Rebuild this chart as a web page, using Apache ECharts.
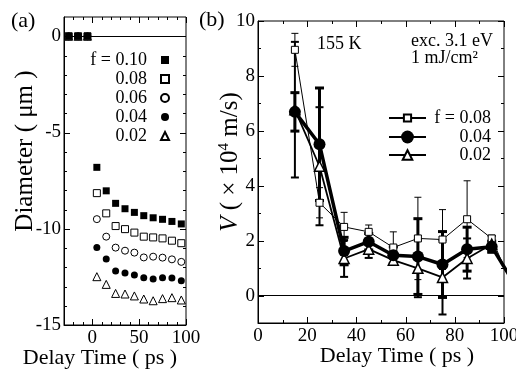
<!DOCTYPE html>
<html><head><meta charset="utf-8">
<script src="https://cdn.jsdelivr.net/npm/echarts@6/dist/echarts.min.js"></script>
<style>html,body{margin:0;padding:0;background:#fff}#c{width:516px;height:369px}</style>
</head><body><div id="c"></div><script>
const FONT = 'Liberation Serif';

// ---------- Panel (a): Diameter vs delay time ----------
const aTime = [-25, -15, -5, 5, 15, 25, 35, 45, 55, 65, 75, 85, 95];
const aF10 = [0, 0, 0, -6.81, -8.03, -8.68, -8.96, -9.15, -9.32, -9.43, -9.51, -9.62, -9.75];
const aF08 = [0, 0, 0, -8.15, -9.20, -9.86, -10.02, -10.20, -10.41, -10.45, -10.50, -10.62, -10.75];
const aF06 = [0, 0, 0, -9.50, -10.41, -10.98, -11.14, -11.24, -11.49, -11.45, -11.50, -11.59, -11.72];
const aF04 = [0, 0, 0, -10.98, -11.57, -12.20, -12.30, -12.40, -12.54, -12.61, -12.54, -12.56, -12.70];
const aF02 = [0, 0, 0, -12.49, -12.89, -13.36, -13.39, -13.49, -13.65, -13.74, -13.63, -13.58, -13.70];
const aXRange = [-30, 100];
const aYRange = [-15, 1];
const aXMajor = [0, 50, 100];
const aXMinor = [-20, -10, 10, 20, 30, 40, 60, 70, 80, 90];
const aYMajor = [-15, -10, -5, 0];
const aYMinor = [-14, -13, -12, -11, -9, -8, -7, -6, -4, -3, -2, -1];

// ---------- Panel (b): velocity vs delay time ----------
const bTime = [15, 25, 35, 45, 55, 65, 75, 85, 95, 105];
const bV08 = [8.95, 3.38, 2.50, 2.32, 1.75, 2.08, 2.04, 2.78, 2.08, 0.02];
const bE08 = [0.60, 0.55, 0.53, 0.25, 0.57, 1.50, 1.09, 1.40, 0.12];
const bV04 = [6.69, 5.51, 1.62, 1.96, 1.47, 1.42, 1.13, 1.69, 1.78, 0.32];
const bE04 = [0.70, 2.05, 0.50, 0.30, 0.30, 1.38, 1.20, 0.80, 0.20];
const bV02 = [6.77, 4.71, 1.35, 1.69, 1.29, 0.99, 0.66, 1.35, 1.87, 0.23];
const bE02 = [2.47, 2.15, 0.67, 0.32, 0.15, 1.05, 1.35, 0.73, 0.30];
const bXRange = [0, 100];
const bYRange = [-1, 10];
const bXMajor = [0, 20, 40, 60, 80, 100];
const bXMinor = [10, 30, 50, 70, 90];
const bYMajor = [0, 2, 4, 6, 8, 10];
const bYMinor = [1, 3, 5, 7, 9];

const labelMap = {
  a10: 'f = 0.10', a08: '0.08', a06: '0.06', a04: '0.04', a02: '0.02',
  b08: 'f = 0.08', b04: '0.04', b02: '0.02'
};

const labelStyle = { color: '#000', fontFamily: FONT, fontSize: 19 };

function axis(gridIndex, range, major, pos, labelMargin, nameOpt) {
  return Object.assign({
    type: 'value', gridIndex, min: range[0], max: range[1], position: pos,
    splitLine: { show: false },
    axisLine: { show: true, onZero: false, lineStyle: { color: '#000', width: 1 } },
    axisTick: { show: false },
    axisLabel: Object.assign({ show: true, customValues: major, margin: labelMargin }, labelStyle)
  }, nameOpt);
}

const xAxes = [
  axis(0, aXRange, aXMajor, 'bottom', 4, {
    name: 'Delay Time ( ps )', nameLocation: 'middle', nameGap: 22, nameMoveOverlap: false,
    nameTextStyle: { color: '#000', fontFamily: FONT, fontSize: 22, padding: [0, 50, 0, 0] }
  }),
  axis(1, bXRange, bXMajor, 'bottom', 4, {
    name: 'Delay Time ( ps )', nameLocation: 'middle', nameGap: 22, nameMoveOverlap: false,
    nameTextStyle: { color: '#000', fontFamily: FONT, fontSize: 22, padding: [0, 0, 0, 32] }
  })
];
const yAxes = [
  axis(0, aYRange, aYMajor, 'left', 3, {
    name: 'Diameter ( μm )', nameLocation: 'middle', nameGap: 26, nameMoveOverlap: false,
    nameTextStyle: { color: '#000', fontFamily: FONT, fontSize: 25, padding: [0, 0, 0, 40] }
  }),
  axis(1, bYRange, bYMajor, 'left', 3, {
    name: '{i|V} ( × 10{s|4} m/s)', nameLocation: 'middle', nameGap: 15, nameMoveOverlap: false,
    nameTextStyle: { color: '#000', fontFamily: FONT, fontSize: 25, padding: [0, 0, 0, 20],
      rich: { i: { fontStyle: 'italic', fontFamily: FONT, fontSize: 25, color: '#000' },
              s: { fontFamily: FONT, fontSize: 15, color: '#000', verticalAlign: 'top', padding: [0, 0, 11, 0] } } }
  })
];

function aSeries(name, vals, symbol, filled, size) {
  return {
    type: 'scatter', name, xAxisIndex: 0, yAxisIndex: 0, symbol, symbolSize: size,
    data: aTime.map((t, i) => [t, vals[i]]),
    itemStyle: { color: filled ? '#000' : '#fff', borderColor: '#000', borderWidth: filled ? 0 : 1, opacity: 1 },
    emphasis: { disabled: true }
  };
}

function errSeries(name, vals, errs, lw, cap) {
  return {
    type: 'custom', name, xAxisIndex: 1, yAxisIndex: 1, z: 1, silent: true,
    data: errs.map((e, i) => [bTime[i], vals[i] - e, vals[i] + e]),
    renderItem(params, api) {
      const x = api.value(0);
      const top = api.coord([x, api.value(2)]);
      const bot = api.coord([x, api.value(1)]);
      const st = { stroke: '#000', lineWidth: lw };
      return { type: 'group', children: [
        { type: 'line', shape: { x1: top[0], y1: top[1], x2: bot[0], y2: bot[1] }, style: st },
        { type: 'line', shape: { x1: top[0] - cap, y1: top[1], x2: top[0] + cap, y2: top[1] }, style: st },
        { type: 'line', shape: { x1: bot[0] - cap, y1: bot[1], x2: bot[0] + cap, y2: bot[1] }, style: st }
      ] };
    }
  };
}

// inside ticks on all four sides, drawn through the axes' own scales
function tickSeries(gi, xr, yr, xMaj, xMin, yMaj, yMin) {
  const data = [];
  xMaj.forEach(v => data.push([v, yr[0], yr[1], 0, 6]));
  xMin.forEach(v => data.push([v, yr[0], yr[1], 0, 3]));
  yMaj.forEach(v => data.push([v, xr[0], xr[1], 1, 6]));
  yMin.forEach(v => data.push([v, xr[0], xr[1], 1, 3]));
  return {
    type: 'custom', xAxisIndex: gi, yAxisIndex: gi, z: 10, silent: true,
    dimensions: ['v', 'lo', 'hi', 'dir', 'len'],
    encode: { x: 0, y: 1 },
    data,
    renderItem(params, api) {
      const v = api.value(0), lo = api.value(1), hi = api.value(2), dir = api.value(3), len = api.value(4);
      const st = { stroke: '#000', lineWidth: 1 };
      if (dir === 0) {
        const b = api.coord([v, lo]), t = api.coord([v, hi]);
        const x = Math.round(b[0]) + 0.5;
        return { type: 'group', children: [
          { type: 'line', shape: { x1: x, y1: b[1], x2: x, y2: b[1] - len }, style: st },
          { type: 'line', shape: { x1: x, y1: t[1], x2: x, y2: t[1] + len }, style: st }
        ] };
      }
      const l = api.coord([lo, v]), r = api.coord([hi, v]);
      const y = Math.round(l[1]) + 0.5;
      return { type: 'group', children: [
        { type: 'line', shape: { x1: l[0], y1: y, x2: l[0] + len, y2: y }, style: st },
        { type: 'line', shape: { x1: r[0], y1: y, x2: r[0] - len, y2: y }, style: st }
      ] };
    }
  };
}

function bSeries(name, vals, symbol, size, lw, filled, bw) {
  return {
    type: 'line', name, xAxisIndex: 1, yAxisIndex: 1, z: 3, clip: true,
    data: bTime.map((t, i) => [t, vals[i]]),
    symbol, symbolSize: size, showAllSymbol: true,
    lineStyle: { color: '#000', width: lw },
    itemStyle: { color: filled ? '#000' : '#fff', borderColor: '#000', borderWidth: bw },
    emphasis: { disabled: true }
  };
}

const s02a = aSeries('a02', aF02, 'triangle', false, 8);
s02a.markLine = { silent: true, symbol: 'none', animation: false, label: { show: false },
  lineStyle: { color: '#000', width: 1, type: 'solid' }, data: [{ yAxis: 0 }] };

const s08b = bSeries('b08', bV08, 'rect', 7, 1, false, 1);
s08b.markLine = { silent: true, symbol: 'none', animation: false, label: { show: false },
  lineStyle: { color: '#000', width: 1, type: 'solid' }, data: [{ yAxis: 0 }] };

const legendText = { color: '#000', fontFamily: FONT, fontSize: 18 };
function bLegend(name, top, ih) {
  return {
    orient: 'vertical', align: 'left', left: 388, top, padding: 0, itemWidth: 37, itemHeight: ih, selectedMode: false,
    data: [name], formatter: n => '{t|' + labelMap[n] + '}',
    textStyle: Object.assign({}, legendText, { rich: { t: Object.assign({ width: 60, align: 'right' }, legendText) } })
  };
}

const chart = echarts.init(document.getElementById('c'), null, { renderer: 'canvas' });
chart.setOption({
  animation: false,
  backgroundColor: '#fff',
  textStyle: { fontFamily: FONT },
  grid: [
    { left: 64, top: 17, width: 122, height: 308, containLabel: false, outerBoundsMode: 'none',
      show: true, borderColor: '#000', borderWidth: 1, backgroundColor: 'transparent' },
    { left: 258, top: 21, width: 246, height: 302, containLabel: false, outerBoundsMode: 'none',
      show: true, borderColor: '#000', borderWidth: 1, backgroundColor: 'transparent' }
  ],
  xAxis: xAxes,
  yAxis: yAxes,
  legend: [
    { orient: 'vertical', align: 'right', right: 346, top: 51, padding: 0, itemWidth: 8, itemHeight: 8, itemGap: 1, selectedMode: false,
      data: ['a10', 'a08', 'a06', 'a04', 'a02'], formatter: n => '{t|' + labelMap[n] + '}',
      textStyle: Object.assign({}, legendText, { rich: { t: Object.assign({ padding: [0, 9, 0, 0] }, legendText) } }) },
    bLegend('b08', 109, 9),
    bLegend('b04', 128, 16),
    bLegend('b02', 146, 12)
  ],
  series: [
    s02a,
    aSeries('a04', aF04, 'circle', true, 7),
    aSeries('a06', aF06, 'circle', false, 7),
    aSeries('a08', aF08, 'rect', false, 7),
    aSeries('a10', aF10, 'rect', true, 7),
    errSeries('e08', bV08, bE08, 1, 3.5),
    errSeries('e02', bV02, bE02, 2, 4),
    errSeries('e04', bV04, bE04, 3, 4.5),
    s08b,
    bSeries('b02', bV02, 'triangle', 10, 1.8, false, 1.5),
    bSeries('b04', bV04, 'circle', 12, 3.5, true, 0),
    tickSeries(0, aXRange, aYRange, aXMajor, aXMinor, aYMajor, aYMinor),
    tickSeries(1, bXRange, bYRange, bXMajor, bXMinor, bYMajor, bYMinor)
  ],
  graphic: [
    { type: 'text', left: 11, top: 10, style: { text: '(a)', fill: '#000', font: '22px "Liberation Serif"' } },
    { type: 'text', left: 199, top: 9, style: { text: '(b)', fill: '#000', font: '22px "Liberation Serif"' } },
    { type: 'text', left: 317, top: 35, style: { text: '155 K', fill: '#000', font: '18px "Liberation Serif"' } },
    { type: 'text', left: 411, top: 32, style: { text: 'exc. 3.1 eV', fill: '#000', font: '18px "Liberation Serif"' } },
    { type: 'text', left: 411, top: 49, style: { text: '1 mJ/cm²', fill: '#000', font: '18px "Liberation Serif"' } }
  ]
});
</script></body></html>
